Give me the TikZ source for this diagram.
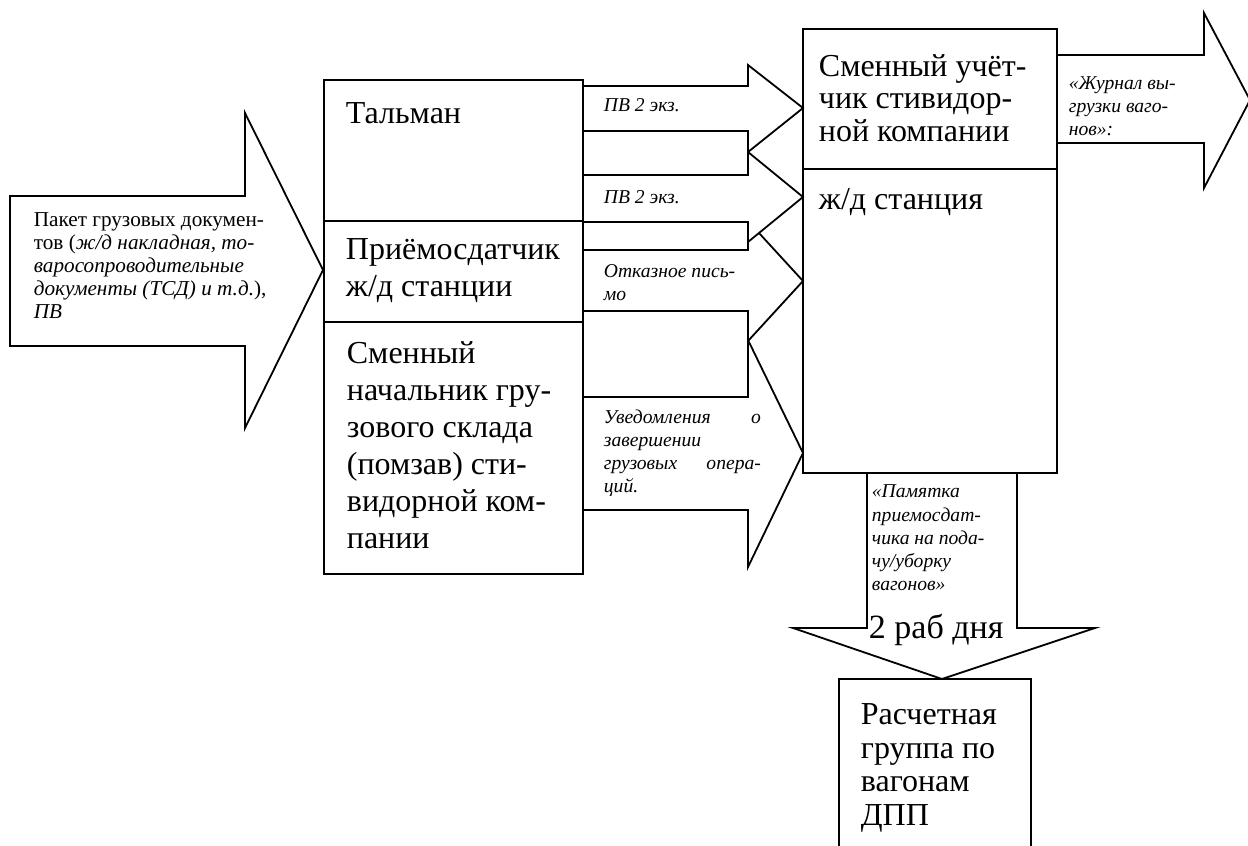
\documentclass[tikz,border=0pt]{standalone}
\usepackage{fontspec}
\setmainfont{Liberation Serif}
\begin{document}
\begin{tikzpicture}[x=0.5pt,y=-0.5pt,line width=0.9pt,line join=miter,
    blk/.style={draw,fill=white},
    big/.style={anchor=west,align=left,inner sep=0pt,font=\fontsize{16}{18.5}\selectfont},
    bigc/.style={big,font=\fontsize{16}{16.2}\selectfont},
    sml/.style={anchor=west,align=left,inner sep=0pt,font=\fontsize{10.6}{11.5}\selectfont},
    lbl/.style={anchor=west,align=left,inner sep=0pt,font=\itshape\fontsize{9.8}{11.6}\selectfont}]
    \clip (0,0) rectangle (1248,846);
    % block arrows
    \draw[blk] (10,196) -- (245,196) -- (245,113) -- (323,270) -- (245,428) -- (245,346) -- (10,346) -- cycle;
    \draw[blk] (583,86) -- (748,86) -- (748,65) -- (803,108) -- (748,152) -- (748,131) -- (583,131) -- cycle;
    \draw[blk] (583,250) -- (748,250) -- (748,221) -- (803,281) -- (748,341) -- (748,311) -- (583,311) -- cycle;
    \draw[blk] (583,175) -- (748,175) -- (748,152) -- (803,197) -- (748,242) -- (748,222) -- (583,222) -- cycle;
    \draw[blk] (583,397) -- (748,397) -- (748,340) -- (803,453) -- (748,567) -- (748,510) -- (583,510) -- cycle;
    \draw[blk] (1057,55) -- (1204,55) -- (1204,13) -- (1250,100) -- (1204,188) -- (1204,143) -- (1057,143) -- cycle;
    \draw[blk] (867,473) -- (867,628) -- (793,628) -- (942,679) -- (1095,628) -- (1017,628) -- (1017,473) -- cycle;
    % boxes
    \draw (324,80) rectangle (583,221);
    \draw (324,221) rectangle (583,322);
    \draw (324,322) rectangle (583,574);
    \draw (803,29) rectangle (1057,169);
    \draw (803,169) rectangle (1057,473);
    \draw (839,679) rectangle (1031,870);
    % texts
    \node[sml] (Pak) at (33,266) {Пакет грузовых докумен-\\тов (\textit{ж/д накладная, то-}\\\textit{варосопроводительные}\\\textit{документы (ТСД) и т.д.}),\\\textit{ПВ}};
    \node[big] (Tal) at (345,113) {Тальман};
    \node[big] (Prm) at (345,271) {Приёмосдатчик\\ж/д станции};
    \node[big] (Smn) at (346,445) {Сменный\\начальник гру-\\зового склада\\(помзав) сти-\\видорной ком-\\пании};
    \node[bigc] (Uch) at (818,98) {Сменный учёт-\\чик стивидор-\\ной компании};
    \node[big] (Zhd) at (818,202) {ж/д станция};
    \node[big,font=\fontsize{16}{16.8}\selectfont] (Ras) at (860,768) {Расчетная\\группа по\\вагонам\\ДПП};
    \node[lbl] (pv1) at (603,105) {ПВ 2 экз.};
    \node[lbl] (pv2) at (603,197) {ПВ 2 экз.};
    \node[lbl] (Otk) at (603,283) {Отказное пись-\\мо};
    \node[lbl,text width=78.5pt] (Uvd) at (603,453) {Уведомления\hfill о\\завершении\\грузовых\hfill опера-\\ций.};
    \node[lbl] (Zhr) at (1068,106) {«Журнал вы-\\грузки ваго-\\нов»:};
    \node[lbl] (Pam) at (871,538) {«Памятка\\приемосдат-\\чика на пода-\\чу/уборку\\вагонов»};
    \node[big,font=\fontsize{17}{18}\selectfont] (dn) at (868,630) {2 раб дня};
\end{tikzpicture}
\end{document}
